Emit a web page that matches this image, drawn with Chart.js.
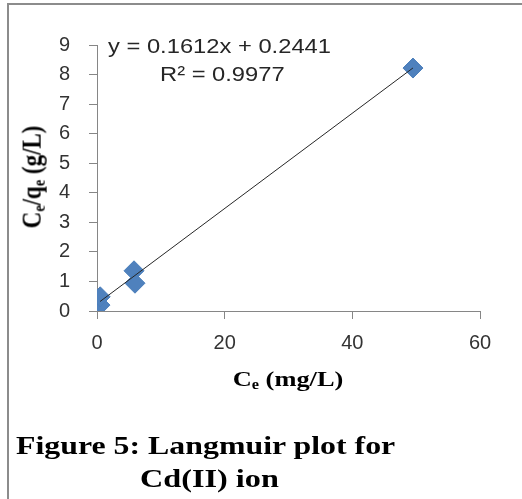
<!DOCTYPE html>
<html>
<head>
<meta charset="utf-8">
<script src="https://cdn.jsdelivr.net/npm/chart.js@4.4.0/dist/chart.umd.min.js"></script>
<style>
  html, body { margin: 0; padding: 0; background: #fff; }
  #wrap { position: relative; width: 522px; height: 499px; overflow: hidden; background: #fff; }
  #c { position: absolute; left: 0; top: 0; }
  .frameTop { position: absolute; left: 7px; top: 3px; width: 515px; height: 2px; background: #8c8c8c; }
  .frameLeft { position: absolute; left: 7px; top: 3px; width: 2px; height: 496px; background: #8c8c8c; }
  .eq { position: absolute; font-family: "Liberation Sans", Arial, sans-serif; font-size: 21px; line-height: 21px; color: #262626; white-space: nowrap; transform-origin: left top; transform: scaleX(1.13); }
  .serif { position: absolute; font-family: "Liberation Serif", "Times New Roman", serif; font-weight: bold; color: #000; white-space: nowrap; line-height: 1; }
  .serif sub { font-size: 62%; vertical-align: -0.25em; line-height: 0; }
  #xt { font-size: 22px; left: 288px; top: 368px; transform: translateX(-50%) scaleX(1.2); }
  #yt { font-size: 23px; left: 32px; top: 177px; transform: translate(-50%, -50%) rotate(-90deg) scaleY(1.15); }
  #cap1 { font-size: 26px; left: 16px; top: 433px; transform-origin: left top; transform: scaleX(1.225); }
  #cap2 { font-size: 26px; left: 140px; top: 466px; transform-origin: left top; transform: scaleX(1.24); }
</style>
</head>
<body>
<div id="wrap">
  <canvas id="c" width="522" height="499"></canvas>
  <div class="frameTop"></div>
  <div class="frameLeft"></div>
  <div class="eq" id="eq1" style="left:108px;top:35px;">y = 0.1612x + 0.2441</div>
  <div class="eq" id="eq2" style="left:160px;top:63px;">R² = 0.9977</div>
  <div class="serif" id="xt">C<sub>e</sub> (mg/L)</div>
  <div class="serif" id="yt">C<sub>e</sub>/q<sub>e</sub> (g/L)</div>
  <div class="serif" id="cap1">Figure 5: Langmuir plot for</div>
  <div class="serif" id="cap2">Cd(II) ion</div>
</div>
<script>
// Data
const ceValues = [0.47, 0.5, 5.8, 5.95, 49.5];          // Ce (mg/L)
const ceOverQeValues = [0.2, 0.48, 1.36, 0.94, 8.22];    // Ce/qe (g/L)
const trendSlope = 0.1612;
const trendIntercept = 0.2441;
const xTicks = [0, 20, 40, 60];
const yTicks = [0, 1, 2, 3, 4, 5, 6, 7, 8, 9];

const points = ceValues.map((x, i) => ({ x: x, y: ceOverQeValues[i] }));
const xMin = Math.min(...ceValues);
const xMax = Math.max(...ceValues);
const trend = [
  { x: xMin, y: trendSlope * xMin + trendIntercept },
  { x: xMax, y: trendSlope * xMax + trendIntercept }
];

const axisColor = '#868686';
const tickFont = { family: '"Liberation Sans", Arial, sans-serif', size: 20 };

new Chart(document.getElementById('c'), {
  type: 'scatter',
  data: {
    datasets: [
      {
        type: 'line',
        data: trend,
        borderColor: '#262626',
        borderWidth: 1,
        pointRadius: 0,
        fill: false,
        order: 0
      },
      {
        data: points,
        pointStyle: 'rectRot',
        pointRadius: 10,
        pointHoverRadius: 10,
        backgroundColor: '#4F81BD',
        borderColor: '#4A7EBB',
        borderWidth: 1,
        order: 1
      }
    ]
  },
  options: {
    responsive: false,
    animation: false,
    events: [],
    layout: { padding: { left: 0, right: 42, top: 45, bottom: 0 } },
    plugins: { legend: { display: false }, tooltip: { enabled: false } },
    scales: {
      x: {
        type: 'linear',
        min: 0, max: 60,
        afterBuildTicks: s => { s.ticks = xTicks.map(v => ({ value: v })); },
        afterFit: s => { s.height = 188; },
        grid: { drawOnChartArea: false, drawTicks: true, tickLength: 8, color: axisColor },
        border: { display: true, color: axisColor, width: 1 },
        ticks: { color: '#333', font: tickFont, padding: 12, maxRotation: 0 }
      },
      y: {
        type: 'linear',
        min: 0, max: 9,
        afterBuildTicks: s => { s.ticks = yTicks.map(v => ({ value: v })); },
        afterFit: s => { s.width = 97; },
        grid: { drawOnChartArea: false, drawTicks: true, tickLength: 8, color: axisColor },
        border: { display: true, color: axisColor, width: 1 },
        ticks: { color: '#333', font: tickFont, padding: 19 }
      }
    }
  }
});
</script>
</body>
</html>
